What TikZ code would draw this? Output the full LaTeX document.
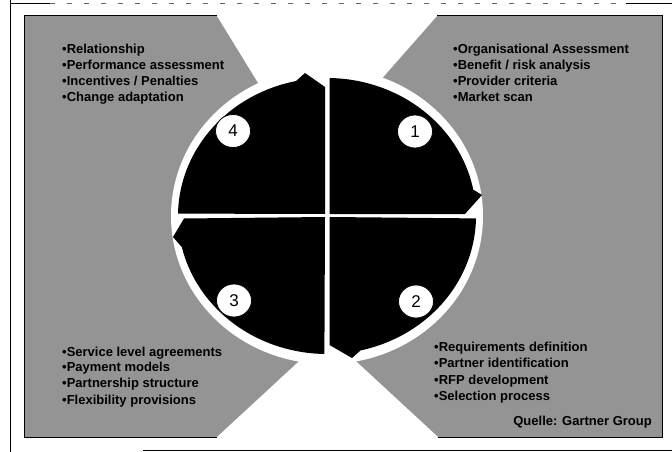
\documentclass[tikz,border=0pt]{standalone}
\usepackage{fontspec}
\setmainfont{Liberation Sans}
\usetikzlibrary{shapes.geometric}
\begin{document}
\begin{tikzpicture}[x=1pt,y=-1pt,
  panel/.style={fill=black!42},
  quad/.style={fill=black},
  numcirc/.style={ellipse, draw=black, line width=0.8pt, fill=white, minimum width=35pt, minimum height=33pt, inner sep=0pt, font=\fontsize{17}{17}\selectfont},
  lbl/.style={anchor=base west, inner sep=0pt, font=\bfseries\fontsize{13}{15}\selectfont},
  frameline/.style={line width=0.9pt, black}]
\useasboundingbox (0,0) rectangle (672,452);
% frame of the scan
\draw[frameline] (10,0) -- (10,452);
\draw[frameline] (10,3) -- (50,3);
\draw[frameline] (626,3) -- (672,3);
\draw[line width=0.6pt, black!60, dash pattern=on 5pt off 12pt] (50,3) -- (626,3);
\draw[frameline] (143,450.5) -- (672,450.5);
% grey panels
\fill[panel] (24,16) rectangle (662,437);
\fill[white] (217,16) -- (437,16) -- (370,92) -- (271,104) -- cycle;
\fill[white] (217,437) -- (309,352) -- (346,352) -- (438,437) -- cycle;
\fill[white] (327,216) ellipse [x radius=156, y radius=148];
\draw[line width=1pt] (217,16) -- (24,16) -- (24,437) -- (217,437);
\draw[line width=1pt] (437,16) -- (662,16) -- (662,437) -- (438,437);
% quadrants with arrow ends
\fill[quad] (329.5,214) -- plot[domain=89:11, samples=40, variable=\t] ({327+149*cos(\t)},{216-138*sin(\t)}) -- (482,195) -- (465,214) -- cycle;
\fill[quad] (329.5,217) -- plot[domain=-1:-77, samples=40, variable=\t] ({327+149*cos(\t)},{216-138*sin(\t)}) -- (352,358) -- (329.5,345) -- cycle;
\fill[quad] (325,217) -- plot[domain=-91:-167, samples=40, variable=\t] ({327+149*cos(\t)},{216-138*sin(\t)}) -- (173,237) -- (184,218.5) -- cycle;
\fill[quad] (325,214) -- plot[domain=179:102, samples=40, variable=\t] ({327+149*cos(\t)},{216-138*sin(\t)}) -- (305,73) -- (325,87) -- cycle;
% numbers
\node[numcirc] (n1) at (415,131.5) {1};
\node[numcirc] (n2) at (416,301.5) {2};
\node[numcirc] (n3) at (234,300.5) {3};
\node[numcirc] (n4) at (233,131) {4};
% texts top left
\node[lbl] (tl1) at (62,53.5) {•Relationship};
\node[lbl] (tl2) at (62,69.5) {•Performance assessment};
\node[lbl] (tl3) at (62,85.5) {•Incentives / Penalties};
\node[lbl] (tl4) at (62,101.5) {•Change adaptation};
% texts top right
\node[lbl] (tr1) at (453,53.5) {•Organisational Assessment};
\node[lbl] (tr2) at (453,69.5) {•Benefit / risk analysis};
\node[lbl] (tr3) at (453,85) {•Provider criteria};
\node[lbl] (tr4) at (453,101) {•Market scan};
% texts bottom left
\node[lbl] (bl1) at (62,356.5) {•Service level agreements};
\node[lbl] (bl2) at (62,371.5) {•Payment models};
\node[lbl] (bl3) at (62,387.5) {•Partnership structure};
\node[lbl] (bl4) at (62,404) {•Flexibility provisions};
% texts bottom right
\node[lbl] (br1) at (434,351) {•Requirements definition};
\node[lbl] (br2) at (434,367.5) {•Partner identification};
\node[lbl] (br3) at (434,384) {•RFP development};
\node[lbl] (br4) at (434,400.5) {•Selection process};
\node[lbl, anchor=base east] (src) at (652,425) {Quelle: Gartner Group};
\end{tikzpicture}
\end{document}
